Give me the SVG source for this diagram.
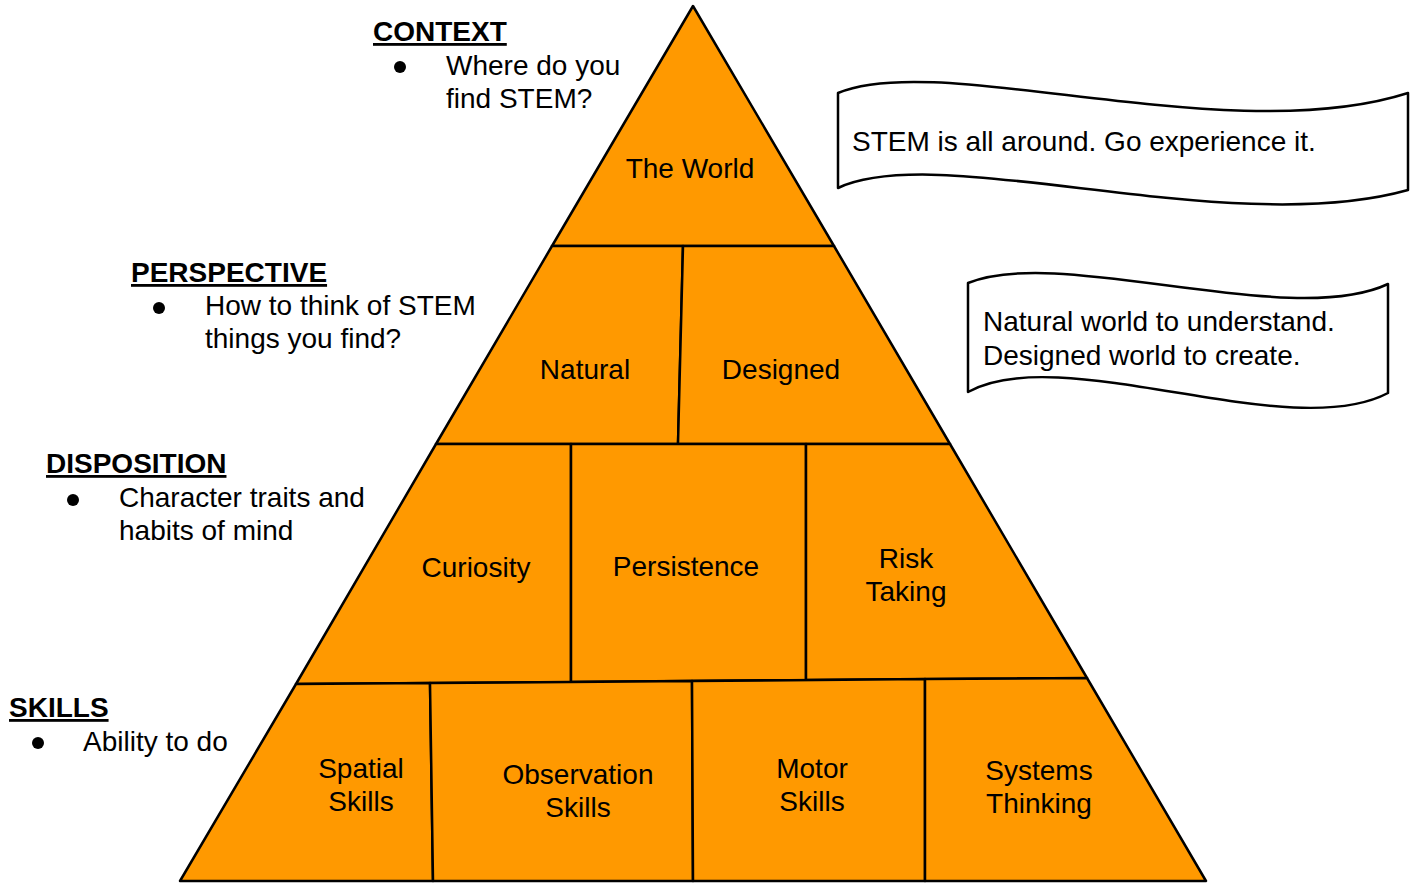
<svg xmlns="http://www.w3.org/2000/svg" width="1413" height="884" viewBox="0 0 1413 884">
<style>
.cell{fill:#FF9900;stroke:#000;stroke-width:2.5;stroke-linejoin:round}
.banner{fill:#fff;stroke:#000;stroke-width:2.5;stroke-linejoin:round}
text{font-family:"Liberation Sans",Arial,sans-serif;font-size:28px;fill:#000}
.c{text-anchor:middle}
.h{font-weight:bold;text-decoration:underline}
</style>
<rect width="1413" height="884" fill="#fff"/>
<g id="pyramid">
<g id="the-world"><polygon class="cell" points="693,6 834,246 552,246"/><text class="c" x="690" y="178">The World</text></g>
<g id="natural"><polygon class="cell" points="552,246 683,246 678,444 436,444"/><text class="c" x="585" y="379">Natural</text></g>
<g id="designed"><polygon class="cell" points="683,246 834,246 950,444 678,444"/><text class="c" x="781" y="379">Designed</text></g>
<g id="curiosity"><polygon class="cell" points="436,444 571,444 571,682 296,684"/><text class="c" x="476" y="577">Curiosity</text></g>
<g id="persistence"><polygon class="cell" points="571,444 806,444 806,680 571,682"/><text class="c" x="686" y="576">Persistence</text></g>
<g id="risk-taking"><polygon class="cell" points="806,444 950,444 1087,678 806,680"/><text class="c" x="906" y="568">Risk</text><text class="c" x="906" y="601">Taking</text></g>
<g id="spatial-skills"><polygon class="cell" points="296,684 430,683 433,881 180,881"/><text class="c" x="361" y="778">Spatial</text><text class="c" x="361" y="811">Skills</text></g>
<g id="observation-skills"><polygon class="cell" points="430,683 692,681 693,881 433,881"/><text class="c" x="578" y="784">Observation</text><text class="c" x="578" y="817">Skills</text></g>
<g id="motor-skills"><polygon class="cell" points="692,681 925,679 925,881 693,881"/><text class="c" x="812" y="778">Motor</text><text class="c" x="812" y="811">Skills</text></g>
<g id="systems-thinking"><polygon class="cell" points="925,679 1087,678 1206,881 925,881"/><text class="c" x="1039" y="780">Systems</text><text class="c" x="1039" y="813">Thinking</text></g>
</g>
<g id="connectors"></g>
<g id="banner-world">
<path class="banner" d="M838,93 C940,50 1230,150 1408,93 L1408,190 C1230,240 940,140 838,188 Z"/>
<text x="852" y="151">STEM is all around. Go experience it.</text>
</g>
<g id="banner-perspective">
<path class="banner" d="M968,283 C1060,245 1290,330 1388,284 L1388,393 C1290,445 1060,340 968,392 Z"/>
<text x="983" y="331">Natural world to understand.</text>
<text x="983" y="365">Designed world to create.</text>
</g>
<g id="label-context">
<text class="h" x="373" y="41">CONTEXT</text>
<circle cx="400" cy="67" r="6"/>
<text x="446" y="75">Where do you</text>
<text x="446" y="108">find STEM?</text>
</g>
<g id="label-perspective">
<text class="h" x="131" y="282">PERSPECTIVE</text>
<circle cx="159" cy="308" r="6"/>
<text x="205" y="315">How to think of STEM</text>
<text x="205" y="348">things you find?</text>
</g>
<g id="label-disposition">
<text class="h" x="46" y="473">DISPOSITION</text>
<circle cx="73" cy="500" r="6"/>
<text x="119" y="507">Character traits and</text>
<text x="119" y="540">habits of mind</text>
</g>
<g id="label-skills">
<text class="h" x="9" y="717">SKILLS</text>
<circle cx="38" cy="743" r="6"/>
<text x="83" y="751">Ability to do</text>
</g>
</svg>
